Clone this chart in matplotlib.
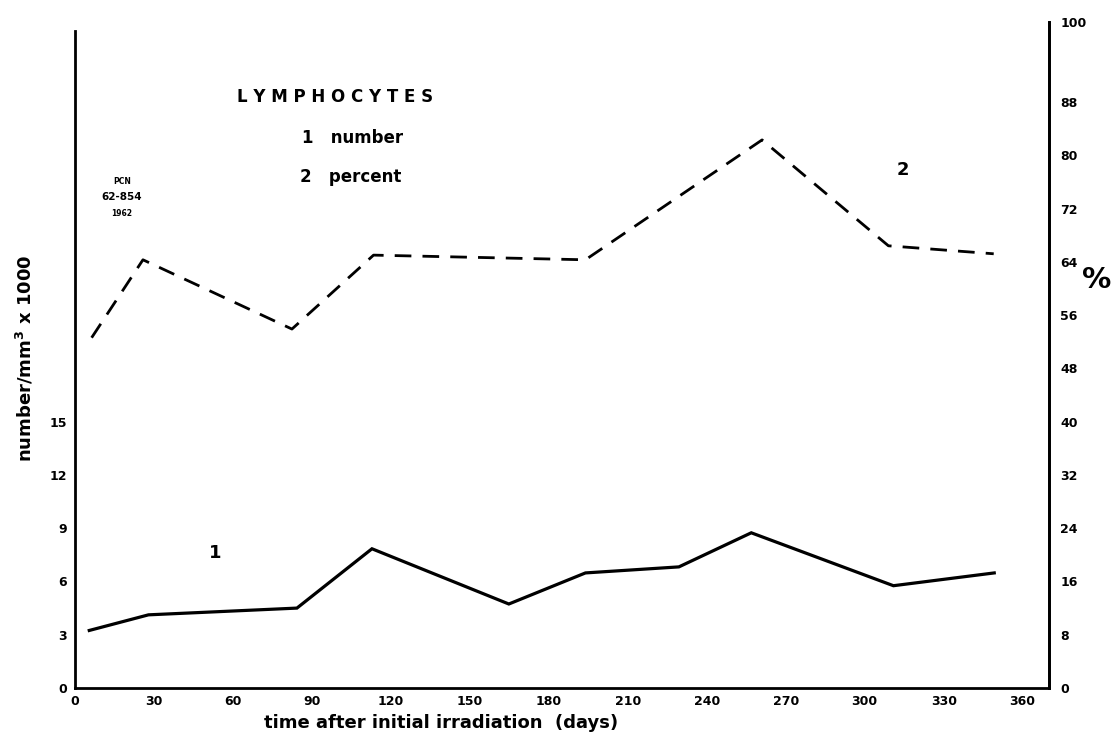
import numpy as np
import matplotlib.pyplot as plt

plt.rcParams['font.family'] = ['DejaVu Sans']
plt.rcParams['font.weight'] = 'bold'

# lymphocyte counts (number/mm3 x 1000) after initial irradiation
days_num = [5.4, 27.9, 84.3, 112.8, 164.8, 193.9, 229.4, 256.9, 310.9, 349.2]
number = [3.24, 4.12, 4.5, 7.84, 4.73, 6.48, 6.82, 8.74, 5.76, 6.48]

# lymphocytes as percent of white cells
days_pct = [6.3, 25.8, 82.4, 113.4, 193.9, 261.0, 309.0, 349.0]
percent = [52.6, 64.3, 53.9, 65.0, 64.3, 82.3, 66.4, 65.2]

x_ticks = list(range(0, 361, 30))
num_ticks = [0, 3, 6, 9, 12, 15]
pct_ticks = [0, 8, 16, 24, 32, 40, 48, 56, 64, 72, 80, 88, 100]

fig = plt.figure(figsize=(11.2, 7.32), dpi=100)
ax = fig.add_axes([0.067, 0.0601, 0.8696, 0.9098])
ax2 = ax.twinx()

ax.plot(days_num, number, color='black', lw=2.3, solid_joinstyle='miter')
ax2.plot(days_pct, percent, color='black', lw=2.0, dashes=(6, 4))

ax.set_xlim(0, 370)
ax.set_ylim(0, 37.5)
ax2.set_ylim(0, 100)

ax.set_xticks(x_ticks)
ax.set_yticks(num_ticks)
ax2.set_yticks(pct_ticks)
ax.tick_params(axis='both', length=0, labelsize=9, pad=6)
ax2.tick_params(axis='y', length=0, labelsize=9, pad=8)
ax.tick_params(axis='x', pad=5)

for a in (ax, ax2):
    a.spines['top'].set_visible(False)
    for s in ('left', 'right', 'bottom'):
        a.spines[s].set_linewidth(2.0)
ax.spines['left'].set_bounds(0, 37.0)
ax2.spines['left'].set_visible(False)
ax2.spines['bottom'].set_visible(False)

ax.set_xlabel('time after initial irradiation  (days)', fontsize=13, fontweight='bold')
ax.xaxis.set_label_coords(0.376, -0.039)

fig.text(0.022, 0.51, 'number/mm$^\\mathbf{3}$ x 1000', rotation=90, fontsize=13,
         fontweight='bold', ha='center', va='center')
fig.text(0.979, 0.617, '%', fontsize=21, fontweight='bold', ha='center', va='center')

# legend text
ax.text(237 / 1120, 1 - 97 / 732, 'L Y M P H O C Y T E S', transform=fig.transFigure,
        fontsize=12, fontweight='bold', va='center')
ax.text(302 / 1120, 1 - 138 / 732, '1   number', transform=fig.transFigure,
        fontsize=12, fontweight='bold', va='center')
ax.text(300 / 1120, 1 - 177 / 732, '2   percent', transform=fig.transFigure,
        fontsize=12, fontweight='bold', va='center')

# curve labels
ax.text(215 / 1120, 1 - 553 / 732, '1', transform=fig.transFigure,
        fontsize=13, fontweight='bold', ha='center', va='center')
ax.text(903 / 1120, 1 - 170 / 732, '2', transform=fig.transFigure,
        fontsize=13, fontweight='bold', ha='center', va='center')

# plate stamp
ax.text(122 / 1120, 1 - 182 / 732, 'PCN', transform=fig.transFigure,
        fontsize=5.5, fontweight='bold', ha='center', va='center')
ax.text(122 / 1120, 1 - 197 / 732, '62-854', transform=fig.transFigure,
        fontsize=7.5, fontweight='bold', ha='center', va='center')
ax.text(122 / 1120, 1 - 213 / 732, '1962', transform=fig.transFigure,
        fontsize=5.5, fontweight='bold', ha='center', va='center')

fig.savefig('out.png', dpi=100)
